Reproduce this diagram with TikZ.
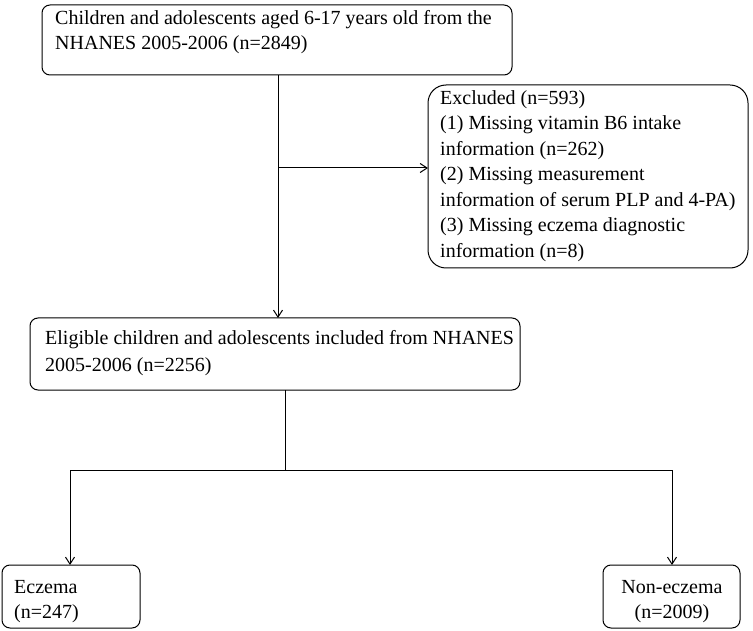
\documentclass[tikz,border=0pt]{standalone}
\usepackage{fontspec}
\setmainfont{Liberation Serif}
\usetikzlibrary{arrows.meta}
\begin{document}
\begin{tikzpicture}[x=1pt,y=-1pt,
  box/.style={draw,line width=1pt,rounded corners=8pt,inner sep=0pt},
  txt/.style={font=\fontsize{20}{25.5}\selectfont,align=left,anchor=north west,inner sep=0pt},
  conn/.style={line width=1pt,-{Straight Barb[length=7pt,width=9pt]}}]
\useasboundingbox (0,0) rectangle (753,631);
\draw[box] (42,5) rectangle (512,75);
\node[txt] (t1) at (55,10) {Children and adolescents aged 6-17 years old from the\\NHANES 2005-2006 (n=2849)};
\draw[box,rounded corners=18pt] (428,85) rectangle (748,268);
\node[txt] (t2) at (440,90) {Excluded (n=593)\\(1) Missing vitamin B6 intake\\information (n=262)\\(2) Missing measurement\\information of serum PLP and 4-PA)\\(3) Missing eczema diagnostic\\information (n=8)};
\draw[box] (30,318) rectangle (520,390);
\node[txt,font=\fontsize{20}{27}\selectfont] (t3) at (45,330) {Eligible children and adolescents included from NHANES\\2005-2006 (n=2256)};
\draw[box] (2,565) rectangle (140,628);
\node[txt,align=left] (t4) at (14,580) {Eczema\\(n=247)};
\draw[box] (603,565) rectangle (740,628);
\node[txt,align=center,anchor=north] (t5) at (672,580) {Non-eczema\\(n=2009)};
\coordinate (a) at (278,75);
\coordinate (b) at (278,318);
\coordinate (c) at (278,168);
\coordinate (d) at (428,168);
\draw[conn] (a) -- (b);
\draw[conn] (c) -- (d);
\coordinate (e) at (285,390);
\coordinate (f) at (285,470);
\coordinate (g) at (70,470);
\coordinate (h) at (672,470);
\draw[line width=1pt] (e) -- (f);
\draw[conn] (f) -- (g) -- (70,565);
\draw[conn] (f) -- (h) -- (672,565);
\end{tikzpicture}
\end{document}
